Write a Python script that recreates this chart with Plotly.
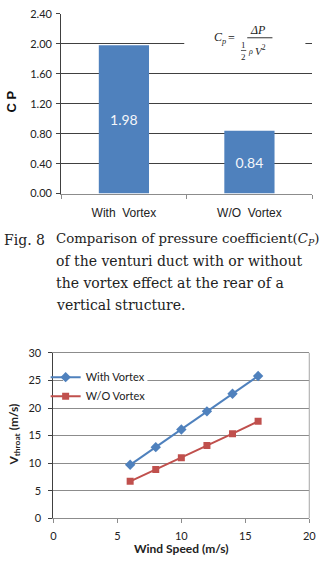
import plotly.graph_objects as go

W, H = 325, 567


def px(x):
    return x / W


def py(y):
    return 1 - y / H


# ---------------- data ----------------
bar_categories = ["With\u00a0 Vortex", "W/O\u00a0 Vortex"]
cp_values = [1.98, 0.84]
cp_ticks = [0, 0.4, 0.8, 1.2, 1.6, 2.0, 2.4]

wind_speed = [6, 8, 10, 12, 14, 16]
v_throat_with = [9.7, 12.9, 16.1, 19.4, 22.6, 25.8]
v_throat_without = [6.7, 8.85, 11.0, 13.2, 15.35, 17.6]
series_names = ["With Vortex", "W/O Vortex"]

BLUE = "#4F81BD"
RED = "#C0504D"
SANS = "Lato"
SERIF = "Liberation Serif"
CAPSERIF = "DejaVu Serif"

fig = go.Figure()

fig.add_trace(go.Bar(
    x=bar_categories, y=cp_values, xaxis="x", yaxis="y",
    marker=dict(color=BLUE, line=dict(width=0)),
    text=[f"{v:.2f}" for v in cp_values],
    textposition="inside", insidetextanchor="middle", textangle=0,
    textfont=dict(family=SANS, size=14, color="#F4F6FA"),
    showlegend=False, hoverinfo="skip",
))

fig.add_trace(go.Scatter(
    x=wind_speed, y=v_throat_with, xaxis="x2", yaxis="y2",
    mode="lines+markers", name=series_names[0],
    line=dict(color=BLUE, width=2),
    marker=dict(symbol="diamond", size=8, color=BLUE),
))
fig.add_trace(go.Scatter(
    x=wind_speed, y=v_throat_without, xaxis="x2", yaxis="y2",
    mode="lines+markers", name=series_names[1],
    line=dict(color=RED, width=2),
    marker=dict(symbol="square", size=7, color=RED),
))

tickfont = dict(family=SANS, size=11, color="#222")

annotations = []
shapes = []

# formula box (white) over gridline
shapes.append(dict(type="rect", xref="paper", yref="paper",
                   x0=px(187), x1=px(312), y0=py(60), y1=py(12),
                   fillcolor="white", line=dict(width=0), layer="above"))
# fraction bars
shapes.append(dict(type="line", xref="paper", yref="paper",
                   x0=px(252), x1=px(278), y0=py(31.5), y1=py(31.5),
                   line=dict(color="#333", width=1), layer="above"))
shapes.append(dict(type="line", xref="paper", yref="paper",
                   x0=px(245.5), x1=px(251), y0=py(44.5), y1=py(44.5),
                   line=dict(color="#333", width=0.8), layer="above"))


def ann(x, y, text, size, family=SERIF, color="#222", xanchor="center", yanchor="middle", angle=0):
    annotations.append(dict(xref="paper", yref="paper", x=px(x), y=py(y), text=text,
                            showarrow=False, xanchor=xanchor, yanchor=yanchor, textangle=angle,
                            font=dict(family=family, size=size, color=color)))


# formula
ann(224, 32, "<i>C<sub>p</sub></i>", 12)
ann(236, 31.5, "=", 12)
ann(263, 23.5, "<i>ΔP</i>", 12)
ann(248.5, 38.5, "1", 9)
ann(248.5, 51.5, "2", 9)
ann(255.5, 46, "<i>ρ</i>", 8)
ann(266, 44.5, "<i>V</i><sup>2</sup>", 11)

# top y title
ann(9, 97, "<b>C P</b>", 13, family="Liberation Sans", color="#111", angle=-90)

# caption
cap_font = 14
ann(-1, 238, "Fig. 8", cap_font, family=CAPSERIF, xanchor="left")
ann(53, 238, "Comparison of pressure coefficient(<i>C<sub>P</sub></i>)",
    13.3, family=CAPSERIF, xanchor="left")
ann(53, 260, "of the venturi duct with or without", cap_font, family=CAPSERIF, xanchor="left")
ann(53, 282, "the vortex effect at the rear of a", cap_font, family=CAPSERIF, xanchor="left")
ann(53, 305, "vertical structure.", cap_font, family=CAPSERIF, xanchor="left")

# bottom axis titles
ann(184, 554, "<b>Wind Speed (m/s)</b>", 12, family=SANS, color="#222")
ann(12, 438, "<b>V<sub>throat</sub> (m/s)</b>", 12, family=SANS, color="#222", angle=-90)

# legend white box over gridline
shapes.append(dict(type="rect", xref="paper", yref="paper",
                   x0=px(62), x1=px(149), y0=py(400), y1=py(366),
                   fillcolor="white", line=dict(width=0), layer="above"))
# right border of bottom plot
shapes.append(dict(type="line", xref="x2 domain", yref="y2 domain",
                   x0=1, x1=1, y0=0, y1=1,
                   line=dict(color="#A6A6A6", width=1), layer="above"))

fig.update_layout(
    width=W, height=H,
    margin=dict(l=0, r=0, t=0, b=0),
    paper_bgcolor="white", plot_bgcolor="white",
    bargap=0.6,
    showlegend=True,
    legend=dict(x=px(44), y=py(364), xanchor="left", yanchor="top",
                bgcolor="rgba(0,0,0,0)", borderwidth=0,
                font=dict(family=SANS, size=11, color="#222"),
                tracegroupgap=0, itemwidth=30),
    xaxis=dict(domain=[px(60), px(319)], anchor="y", type="category",
               showline=True, linecolor="#8C8C8C", linewidth=1,
               ticks="outside", tickson="boundaries", ticklen=4, tickcolor="#8C8C8C",
               showgrid=False, ticklabelstandoff=8,
               tickfont=dict(family="Liberation Sans", size=12, color="#222")),
    yaxis=dict(domain=[py(191), py(7)], anchor="x", range=[0, 2.4],
               tickvals=cp_ticks, tickformat=".2f",
               showgrid=True, gridcolor="#404040", gridwidth=1,
               showline=True, linecolor="#404040", linewidth=1,
               ticks="outside", ticklen=4, tickcolor="#404040",
               zeroline=False, tickfont=tickfont, ticklabelstandoff=2),
    xaxis2=dict(domain=[px(52), px(316)], anchor="y2", range=[0, 20], dtick=5,
                showline=True, linecolor="#8C8C8C", mirror=True, linewidth=1,
                ticks="outside", ticklen=4, tickcolor="#8C8C8C",
                showgrid=False, zeroline=False, tickfont=tickfont, ticklabelstandoff=3),
    yaxis2=dict(domain=[py(523.3), py(354)], anchor="x2", range=[0, 30], dtick=5,
                showgrid=True, gridcolor="#8C8C8C", gridwidth=1,
                showline=True, linecolor="#404040", linewidth=1,
                ticks="outside", ticklen=4, tickcolor="#404040",
                zeroline=False, tickfont=tickfont, ticklabelstandoff=5),
    annotations=annotations,
    shapes=shapes,
)

fig.write_html("out.html")
